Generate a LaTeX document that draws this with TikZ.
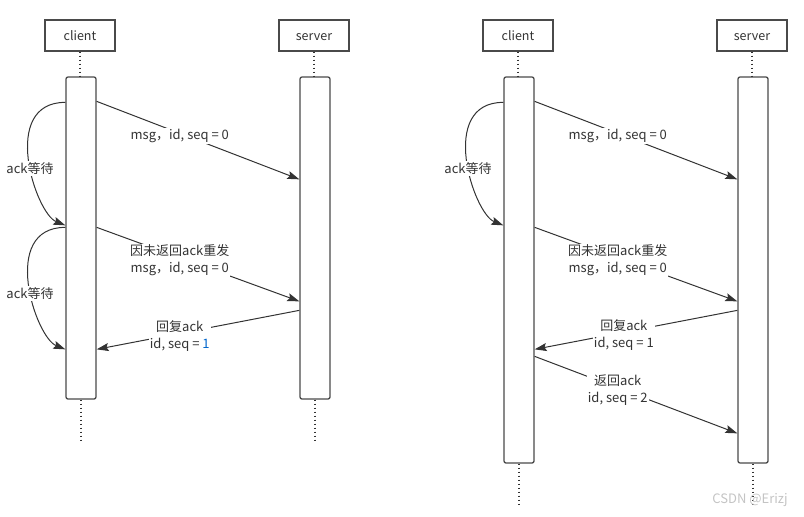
\documentclass[tikz,border=0pt]{standalone}
\usepackage{fontspec}
\setmainfont{Noto Sans CJK SC}
\usetikzlibrary{arrows.meta,calc}
\definecolor{linegray}{HTML}{333333}
\definecolor{boxgray}{HTML}{4A4A4A}
\definecolor{seqblue}{HTML}{0066CC}
\definecolor{markgray}{HTML}{C4C4C4}
\begin{document}
\begin{tikzpicture}[x=1pt,y=-1pt,
  actor/.style={draw=boxgray,line width=1.3pt,minimum width=70pt,minimum height=31pt,inner sep=0pt,
    text height=9pt,text depth=0pt,text=linegray,font=\fontsize{12.5}{14}\selectfont},
  bar/.style={draw=boxgray,line width=1.3pt,rounded corners=2pt,minimum width=30pt,inner sep=0pt},
  life/.style={draw=linegray,line width=1.6pt,dash pattern=on 1.6pt off 2.4pt},
  msg/.style={draw=linegray,line width=1pt,-{Stealth[length=12pt,width=8pt,inset=2pt]}},
  lbl/.style={fill=white,inner sep=1pt,align=center,text=linegray,yshift=-2.5pt,
    font=\fontsize{13}{17}\selectfont}]
\useasboundingbox (0,0) rectangle (804,517);
% actors, bars and lifelines of both diagrams
\foreach \dx/\h/\s in {0/322/L,438/386/R}{
  \node[actor] (client\s) at (\dx+80,35.5) {client};
  \node[actor] (server\s) at (\dx+314,35.5) {server};
  \node[bar,minimum height=\h] (cbar\s) at (\dx+81,77+\h/2) {};
  \node[bar,minimum height=\h] (sbar\s) at (\dx+315,77+\h/2) {};
  \draw[life] (client\s.south) -- (client\s.south |- cbar\s.north);
  \draw[life] (server\s.south) -- (server\s.south |- sbar\s.north);
  \coordinate (cend\s) at ($(cbar\s.south)+(0,41)$);
  \coordinate (send\s) at ($(sbar\s.south)+(0,41)$);
  \draw[life] (cbar\s.south) -- (cend\s);
  \draw[life] (sbar\s.south) -- (send\s);
  % first send and resend
  \coordinate (a\s) at ($(cbar\s.north east)+(0,25)$);
  \coordinate (b\s) at ($(sbar\s.north west)+(0,103)$);
  \coordinate (c\s) at ($(cbar\s.north east)+(0,151)$);
  \coordinate (d\s) at ($(sbar\s.north west)+(0,225)$);
  \coordinate (e\s) at ($(sbar\s.north west)+(0,234)$);
  \coordinate (f\s) at ($(cbar\s.north east)+(0,273)$);
  \draw[msg] (a\s) -- node[lbl,pos=0.41] {msg，id, seq = 0} (b\s);
  \draw[msg] (c\s) -- node[lbl,pos=0.41] {因未返回ack重发\\msg，id, seq = 0} (d\s);
  % ack wait loop
  \coordinate (w1\s) at ($(cbar\s.north west)+(0,26)$);
  \coordinate (w2\s) at ($(cbar\s.north west)+(0,149)$);
  \draw[msg] (w1\s) .. controls ($(w1\s)+(-66,0)$) and ($(w2\s)+(-30,-12)$) .. (w2\s);
}
\node[lbl] (waitL1) at (30,166) {ack等待};
\node[lbl] (waitR1) at (468,166) {ack等待};
% second wait loop, left only
\coordinate (w3L) at ($(cbarL.north west)+(0,151)$);
\coordinate (w4L) at ($(cbarL.north west)+(0,273)$);
\draw[msg] (w3L) .. controls ($(w3L)+(-66,0)$) and ($(w4L)+(-30,-12)$) .. (w4L);
\node[lbl] (waitL2) at (30,291) {ack等待};
% replies
\draw[msg] (eL) -- node[lbl,pos=0.59] {回复ack\\id, seq = \textcolor{seqblue}{1}} (fL);
\draw[msg] (eR) -- node[lbl,pos=0.56] {回复ack\\id, seq = 1} (fR);
% return ack, right only
\coordinate (gR) at ($(cbarR.north east)+(0,280)$);
\coordinate (hR) at ($(sbarR.north west)+(0,357)$);
\draw[msg] (gR) -- node[lbl,pos=0.41] {返回ack\\id, seq = 2} (hR);
\node[text=markgray,font=\fontsize{13}{14}\selectfont] (mark) at (750,500) {CSDN @Erizj};
\end{tikzpicture}
\end{document}
